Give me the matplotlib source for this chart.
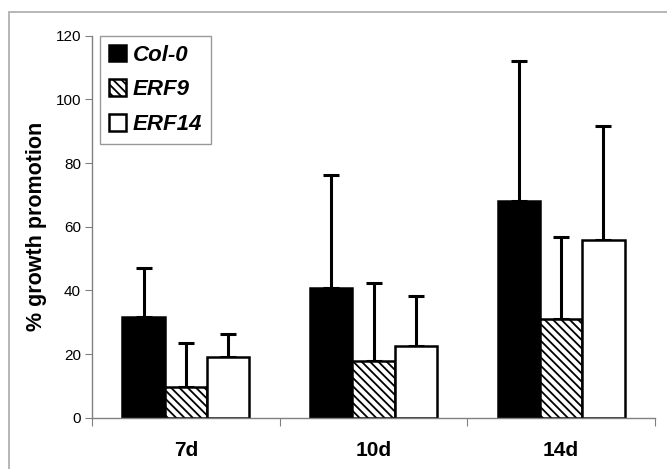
import matplotlib
matplotlib.use("Agg")
import matplotlib.pyplot as plt
import numpy as np
from matplotlib.patches import Rectangle

categories = ["7d", "10d", "14d"]
series = ["Col-0", "ERF9", "ERF14"]
col0 = [31.7, 40.6, 68.1]
erf9 = [9.7, 17.9, 30.9]
erf14 = [19.2, 22.6, 55.8]
col0_err = [15.2, 35.6, 44.1]
erf9_err = [13.7, 24.5, 26.0]
erf14_err = [7.1, 15.6, 35.9]
yticks = [0, 20, 40, 60, 80, 100, 120]

plt.rcParams['font.family'] = ['Liberation Sans', 'DejaVu Sans']
plt.rcParams['hatch.linewidth'] = 1.3

fig = plt.figure(figsize=(6.67, 4.69), dpi=100)
fig.patches.append(Rectangle((9/667, -0.1), 1.2, (469-12)/469 + 0.1,
                             transform=fig.transFigure, fill=False,
                             edgecolor='#aaaaaa', linewidth=1.2))
ax = fig.add_axes([92/667, 1 - 417.7/469, (655-92)/667, (417.7-35.7)/469])

x = np.arange(len(categories))
w = 0.225
styles = [
    dict(color='black', hatch=None),
    dict(color='white', hatch='\\\\\\\\'),
    dict(color='white', hatch=None),
]
vals = [col0, erf9, erf14]
errs = [col0_err, erf9_err, erf14_err]
handles = []
for i, (v, e, st) in enumerate(zip(vals, errs, styles)):
    pos = x + (i - 1) * w
    b = ax.bar(pos, v, w, facecolor=st['color'], edgecolor='black',
               linewidth=1.8, hatch=st['hatch'], label=series[i], zorder=2)
    handles.append(b)
    ax.errorbar(pos, v, yerr=[np.zeros(len(e)), e], fmt='none',
                ecolor='black', elinewidth=2.2, capsize=5.5, capthick=2.2,
                zorder=1)

ax.set_xlim(-0.5, 2.5)
ax.set_ylim(0, 120)
ax.set_yticks(yticks)
ax.set_yticklabels([str(t) for t in yticks], fontsize=11)
ax.set_xticks([-0.5, 0.5, 1.5, 2.5], minor=False)
ax.set_xticklabels([])
ax.set_xticks(x, minor=True)
ax.set_xticklabels(categories, minor=True, fontsize=15, fontweight='bold')
ax.tick_params(axis='x', which='minor', length=0, pad=17)
ax.tick_params(axis='x', which='major', length=6, color='#808080', direction='out')
ax.tick_params(axis='y', length=5, color='#808080', direction='out', pad=3)
for s in ['top', 'right']:
    ax.spines[s].set_visible(False)
for s in ['left', 'bottom']:
    ax.spines[s].set_color('#808080')
    ax.spines[s].set_linewidth(1.0)

ax.set_ylabel("% growth promotion", fontsize=15.5, fontweight='bold', labelpad=6)

leg = ax.legend(handles=handles, loc='upper left', bbox_to_anchor=(0.015, 1.0),
                prop=dict(size=16, weight='bold', style='italic'),
                frameon=True, fancybox=False, edgecolor='#808080',
                handlelength=0.75, handleheight=0.75, handletextpad=0.3,
                labelspacing=0.62, borderpad=0.4, borderaxespad=0)
leg.get_frame().set_linewidth(1.0)

fig.savefig("out.png", dpi=100)
